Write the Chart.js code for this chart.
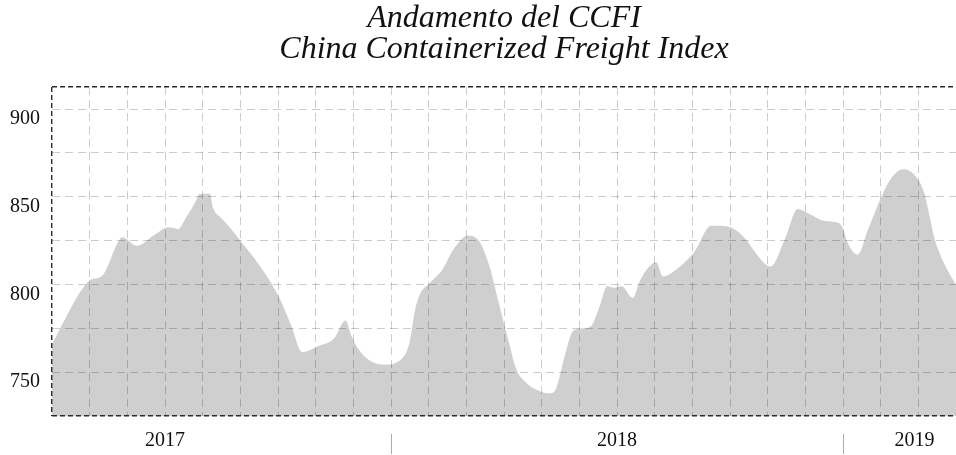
<!DOCTYPE html>
<html>
<head>
<meta charset="utf-8">
<script src="https://cdn.jsdelivr.net/npm/chart.js@4.4.1/dist/chart.umd.min.js"></script>
<style>
  html, body { margin: 0; padding: 0; background: #fff; }
  #wrap { width: 956px; height: 455px; }
</style>
</head>
<body>
<div id="wrap"><canvas id="chart"></canvas></div>
<script>
// x = months counted from 1 April 2017, y = CCFI index points
const MONTHS = [0, 0.82, 1.05, 1.31, 1.80, 1.88, 2.24, 2.77, 3.08, 3.26, 3.34, 3.57, 3.83, 3.90, 4.19, 4.27,
  4.50, 4.72, 4.98, 5.47, 6.00, 6.36, 6.64, 7.06, 7.50, 7.79, 7.95, 8.21, 8.48, 8.83, 9.19, 9.50,
  9.63, 9.76, 10.03, 10.38, 10.65, 11.04, 11.35, 11.62, 11.84, 12.11, 12.33, 12.59, 12.86, 13.21, 13.39,
  13.61, 13.83, 14.10, 14.32, 14.54, 14.74, 14.93, 15.12, 15.42, 15.60, 15.82, 16.04, 16.22, 16.62,
  17.06, 17.50, 17.77, 18.12, 18.43, 18.65, 19.08, 19.45, 19.80, 20.07, 20.51, 20.87, 21.00, 21.09,
  21.26, 21.39, 21.66, 22.02, 22.28, 22.59, 22.90, 23.16, 23.30, 23.44, 23.70, 24.0];
const CCFI = [766, 798, 803, 804.5, 825.8, 826.7, 822, 829, 832.6, 832, 831.5, 838.6, 848, 851.4, 851.7, 844,
  837.7, 832.5, 825.4, 812, 794, 776, 761.4, 764.8, 769.5, 779.5, 770.5, 761, 756, 754.2, 756, 767.5,
  784.5, 794, 800.8, 809, 819.7, 827.8, 824.4, 810, 791.3, 768.6, 751.5, 744, 740, 737.9, 741,
  759, 773.3, 775, 776.5, 787.5, 798.9, 798, 798.9, 792.3, 801.7, 809.3, 812.7, 804.5, 809.3,
  818.8, 833.5, 833.4, 831.5, 825.4, 818.8, 810.2, 825.4, 843, 840.6, 836.2, 835.2, 832, 825.4,
  818.8, 817, 831, 850, 860.5, 865.6, 862.3, 852, 838.6, 825.4, 811.2, 799.8];

const Y_MIN = 725;
const Y_MAX = 912.5;
const Y_TICKS = [725, 750, 775, 800, 825, 850, 875, 900, 912.5];
const MONTH_TICKS = [0, 1, 2, 3, 4, 5, 6, 7, 8, 9, 10, 11, 12, 13, 14, 15, 16, 17, 18, 19, 20, 21, 22, 23, 24];
const YEAR_TICKS = [3, 9, 15, 21, 22.9];
const YEAR_LABELS = ['2017', '', '2018', '', '2019'];

const SERIF = "'Liberation Serif', 'Times New Roman', serif";
const GRID = 'rgba(0,0,0,0.2)';
const FRAME = '#2a2a2a';

function setTicks(list) {
  return (scale) => { scale.ticks = list.map((v) => ({ value: v })); };
}

new Chart(document.getElementById('chart'), {
  type: 'line',
  data: {
    datasets: [{
      data: MONTHS.map((m, i) => ({ x: m, y: CCFI[i] })),
      backgroundColor: '#cfcfcf',
      borderWidth: 0,
      pointRadius: 0,
      fill: 'start',
      cubicInterpolationMode: 'monotone',
    }],
  },
  options: {
    responsive: true,
    maintainAspectRatio: false,
    animation: false,
    layout: { padding: 0 },
    plugins: {
      legend: { display: false },
      tooltip: { enabled: false },
      title: {
        display: true,
        fullSize: false,
        text: ['Andamento del CCFI', 'China Containerized Freight Index'],
        color: '#111',
        font: { family: SERIF, size: 32, style: 'italic', weight: 'normal', lineHeight: 0.97 },
        padding: { top: 3, bottom: 22 },
      },
    },
    scales: {
      x: {
        type: 'linear',
        min: 0,
        max: 24,
        afterBuildTicks: setTicks(MONTH_TICKS),
        ticks: { display: false },
        border: {
          display: false,
          dash: (ctx) => (ctx.tick && ctx.tick.value === 0 ? [5, 3] : [8, 5]),
        },
        grid: {
          z: 1,
          drawTicks: false,
          lineWidth: (ctx) => (ctx.tick && ctx.tick.value === 0 ? 1.4 : 1),
          color: (ctx) => {
            const v = ctx.tick && ctx.tick.value;
            if (v === 0) return FRAME;
            if (v === 24) return 'rgba(0,0,0,0)';
            return GRID;
          },
        },
      },
      x2: {
        type: 'linear',
        position: 'bottom',
        min: 0,
        max: 24,
        afterBuildTicks: setTicks(YEAR_TICKS),
        afterFit: (s) => { s.height = 39; },
        border: { display: false },
        grid: {
          drawOnChartArea: false,
          drawTicks: true,
          tickLength: 38,
          tickWidth: 1,
          tickBorderDash: [0, 18, 20, 0],
          tickColor: (ctx) => (YEAR_LABELS[ctx.index] === '' ? '#aaa' : 'rgba(0,0,0,0)'),
        },
        ticks: {
          autoSkip: false,
          maxRotation: 0,
          padding: -25,
          color: '#111',
          font: { family: SERIF, size: 20 },
          callback: (v, i) => YEAR_LABELS[i],
        },
      },
      y: {
        min: Y_MIN,
        max: Y_MAX,
        afterBuildTicks: setTicks(Y_TICKS),
        afterFit: (s) => { s.width = 52; },
        border: {
          display: false,
          dash: (ctx) => {
            const v = ctx.tick && ctx.tick.value;
            return v === Y_MIN || v === Y_MAX ? [5, 3] : [8, 5];
          },
        },
        grid: {
          z: 1,
          drawTicks: false,
          lineWidth: (ctx) => {
            const v = ctx.tick && ctx.tick.value;
            return v === Y_MIN || v === Y_MAX ? 1.4 : 1;
          },
          color: (ctx) => {
            const v = ctx.tick && ctx.tick.value;
            return v === Y_MIN || v === Y_MAX ? FRAME : GRID;
          },
        },
        ticks: {
          padding: 12,
          labelOffset: 10,
          color: '#111',
          font: { family: SERIF, size: 20 },
          callback: (v) => (v % 50 === 0 ? String(v) : ''),
        },
      },
    },
  },
});
</script>
</body>
</html>
